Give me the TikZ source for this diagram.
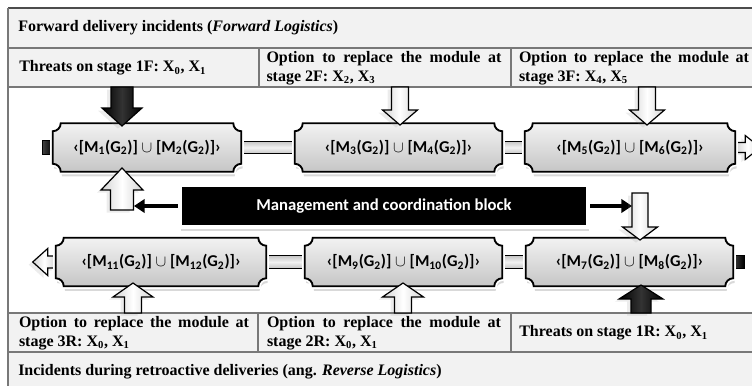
\documentclass[tikz,border=0pt]{standalone}
\usepackage{fontspec}
\setmainfont{Liberation Serif}
\newfontfamily\calib{Carlito}
\usetikzlibrary{calc,shadows,arrows.meta}
\pgfdeclarelayer{bg}
\pgfdeclarelayer{mid}
\pgfsetlayers{bg,mid,main}
\definecolor{cellgray}{RGB}{242,242,242}
\definecolor{framegray}{RGB}{120,120,120}

\newcommand\plaquepath[2]{%
  \path[#2] let \p1=(#1.north west), \p2=(#1.south east) in
   ({\x1+6pt},\y1) -- ({\x2-6pt},\y1)
   .. controls ({\x2-6pt},{\y1-3.3pt}) and ({\x2-3.3pt},{\y1-6pt}) .. (\x2,{\y1-6pt})
   -- (\x2,{\y2+6pt})
   .. controls ({\x2-3.3pt},{\y2+6pt}) and ({\x2-6pt},{\y2+3.3pt}) .. ({\x2-6pt},\y2)
   -- ({\x1+6pt},\y2)
   .. controls ({\x1+6pt},{\y2+3.3pt}) and ({\x1+3.3pt},{\y2+6pt}) .. (\x1,{\y2+6pt})
   -- (\x1,{\y1-6pt})
   .. controls ({\x1+3.3pt},{\y1-6pt}) and ({\x1+6pt},{\y1-3.3pt}) .. cycle;}

% style, tip, length, head length, head half width, shaft half width
\newcommand\uparrowshape[6]{%
  \path[#1, shift={(#2)}] (0,0) -- (#5,#4) -- (#6,#4) -- (#6,#3) -- (-#6,#3) -- (-#6,#4) -- (-#5,#4) -- cycle;}
\newcommand\downarrowshape[6]{%
  \path[#1, shift={(#2)}] (0,0) -- (#5,-#4) -- (#6,-#4) -- (#6,-#3) -- (-#6,-#3) -- (-#6,-#4) -- (-#5,-#4) -- cycle;}

\newcommand\mtext[2]{‹[M\textsubscript{#1}(G\textsubscript{2})] $\cup$ [M\textsubscript{#2}(G\textsubscript{2})]›}

\begin{document}
\begin{tikzpicture}[x=0.75pt,y=-0.75pt,
  cell/.style={font=\bfseries\fontsize{12}{14.25}\selectfont, inner sep=0pt},
  mod/.style={font=\calib\bfseries\fontsize{12.4}{15}\selectfont, inner sep=0pt, minimum height=48*0.75pt},
  hollow/.style={draw=black, line width=0.9pt, left color=gray!35, right color=gray!35, middle color=white,
     drop shadow={shadow xshift=-3pt, shadow yshift=-2pt, opacity=0.15}},
  solid/.style={draw=black, line width=0.9pt, left color=black, right color=black, middle color=gray!40!black,
     drop shadow={shadow xshift=-3pt, shadow yshift=-2pt, opacity=0.15}},
  bar/.style={draw=black, line width=0.9pt, top color=gray!45, bottom color=gray!45, middle color=gray!10},
  stub/.style={draw=black, line width=0.9pt, left color=gray!50!black, right color=black},
  boxouter/.style={draw=white, line width=4pt, drop shadow={shadow xshift=1pt, shadow yshift=-3.5pt, opacity=0.3}},
  boxinner/.style={draw=black, line width=1.4pt, top color=gray!10, bottom color=gray!45},
]
\useasboundingbox (0,0) rectangle (752,385);

% frame and cells
\fill[cellgray] (8,8) rectangle (760,87);
\fill[cellgray] (8,313) rectangle (760,390);
\draw[framegray, line width=0.8pt] (8,48) -- (760,48) (8,87) -- (760,87)
  (8,313) -- (760,313) (8,352) -- (760,352)
  (259,48) -- (259,87) (511,48) -- (511,87)
  (258,313) -- (258,352) (511,313) -- (511,352);
\draw[gray!60!black, line width=1.6pt] (8,8) -- (760,8);
\draw[framegray, line width=1pt] (8,8) -- (8,390);

\node[cell, anchor=west] (h1) at (18,28) {Forward delivery incidents (\textit{Forward Logistics})};
\node[cell, anchor=west] (c1) at (19,68) {Threats on stage 1F: X\textsubscript{0}, X\textsubscript{1}};
\node[cell, text width=235*0.75pt, align=justify] (c2) at (384,68)
  {Option to replace the module at\linebreak stage 2F: X\textsubscript{2}, X\textsubscript{3}};
\node[cell, text width=230*0.75pt, align=justify] (c3) at (634,68)
  {Option to replace the module at\linebreak stage 3F: X\textsubscript{4}, X\textsubscript{5}};
\node[cell, text width=230*0.75pt, align=justify] (b1) at (134,333)
  {Option to replace the module at\linebreak stage 3R: X\textsubscript{0}, X\textsubscript{1}};
\node[cell, text width=234*0.75pt, align=justify] (b2) at (384,333)
  {Option to replace the module at\linebreak stage 2R: X\textsubscript{0}, X\textsubscript{1}};
\node[cell, anchor=west] (b3) at (519,333) {Threats on stage 1R: X\textsubscript{0}, X\textsubscript{1}};
\node[cell, anchor=west] (h2) at (18,372) {Incidents during retroactive deliveries (ang. \textit{Reverse Logistics})};

% modules
\node[mod, minimum width=188*0.75pt] (m1) at (147,147.5) {\mtext{1}{2}};
\node[mod, minimum width=207*0.75pt] (m3) at (398.5,147.5) {\mtext{3}{4}};
\node[mod, minimum width=210*0.75pt] (m5) at (630,147.5) {\mtext{5}{6}};
\node[mod, minimum width=210*0.75pt] (m11) at (161,262) {\mtext{11}{12}};
\node[mod, minimum width=197*0.75pt] (m9) at (403.5,262) {\mtext{9}{10}};
\node[mod, minimum width=207*0.75pt] (m7) at (629.5,262) {\mtext{7}{8}};

\begin{pgfonlayer}{mid}
\foreach \m in {m1,m3,m5,m11,m9,m7}{%
  \plaquepath{\m}{boxouter}
  \plaquepath{\m}{boxinner}
}
\end{pgfonlayer}

% management block
\node[fill=black, draw=white, line width=2.5pt, text=white,
  font=\calib\bfseries\fontsize{12.5}{15}\selectfont,
  minimum width=408*0.75pt, minimum height=42*0.75pt,
  drop shadow={shadow xshift=1pt, shadow yshift=-3pt, opacity=0.3}] (mg) at (384,206) {Management and coordination block};

\coordinate (la) at (134,206);
\coordinate (ra) at (632,206);

\begin{pgfonlayer}{bg}
% flow bars
\path[bar] ([yshift=4.7pt]m1.east) rectangle ([yshift=-4.7pt]m3.west);
\path[bar] ([yshift=4.7pt]m3.east) rectangle ([yshift=-4.7pt]m5.west);
\path[bar] ([yshift=4.7pt]m11.east) rectangle ([yshift=-4.7pt]m9.west);
\path[bar] ([yshift=4.7pt]m9.east) rectangle ([yshift=-4.7pt]m7.west);
\path[stub, shift={(m1.west)}] (-10,-7) rectangle (0,7);
\path[stub, shift={(m7.east)}] (0,-6.5) rectangle (11,6.5);
\path[hollow, shift={(m5.east)}] (0,-5) -- (10,-5) -- (10,-12) -- (25,0) -- (10,12) -- (10,5) -- (0,5) -- cycle;
\path[hollow, shift={(m11.west)}] (0,-6) -- (-8,-6) -- (-8,-13.5) -- (-23,0) -- (-8,13.5) -- (-8,6) -- (0,6) -- cycle;
% management arrows
\draw[white, line width=6pt, -{Triangle[length=10pt,width=15pt]}, shorten >=-2pt] (mg.west) -- (la);
\draw[black, line width=3pt, -{Triangle[length=8pt,width=10pt]}] (mg.west) -- (la);
\draw[white, line width=6pt, -{Triangle[length=10pt,width=15pt]}, shorten >=-2pt] (mg.east) -- (ra);
\draw[black, line width=3pt, -{Triangle[length=8pt,width=10pt]}] (mg.east) -- (ra);
\end{pgfonlayer}

% vertical block arrows
\coordinate (t1) at (122,126);
\coordinate (t2) at (400,125);
\coordinate (t3) at (647,125);
\coordinate (t4) at (122,168);
\coordinate (t5) at (640,240);
\coordinate (t6) at (133,283);
\coordinate (t7) at (403,283);
\coordinate (t8) at (641,285);
\downarrowshape{solid}{t1}{39}{18}{20}{11}
\downarrowshape{hollow}{t2}{38}{15}{17.5}{8.5}
\downarrowshape{hollow}{t3}{38}{15}{17.5}{8.5}
\uparrowshape{hollow}{t4}{42}{22}{21}{11.5}
\downarrowshape{hollow}{t5}{47}{13}{17.5}{8}
\uparrowshape{hollow}{t6}{30}{14}{20}{8.5}
\uparrowshape{hollow}{t7}{30}{14}{20.5}{8.5}
\uparrowshape{solid}{t8}{28}{14}{22}{10}
\end{tikzpicture}
\end{document}
